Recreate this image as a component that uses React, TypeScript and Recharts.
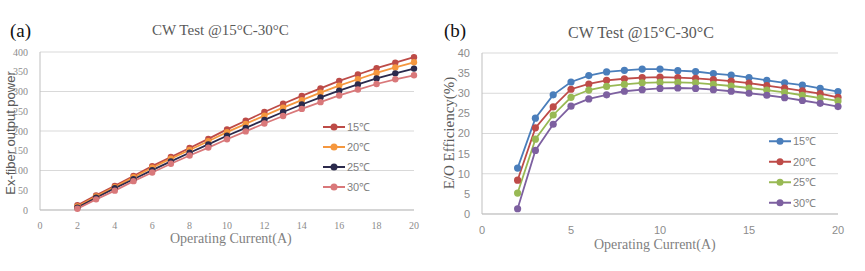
import { LineChart, Line, XAxis, YAxis, CartesianGrid } from "recharts";

const current = [2, 3, 4, 5, 6, 7, 8, 9, 10, 11, 12, 13, 14, 15, 16, 17, 18, 19, 20];

// (a) ex-fiber output power
const power15 = [12, 37, 61, 86, 111, 134, 157, 180, 204, 226, 248, 269, 289, 308, 327, 343, 359, 373, 387];
const power20 = [9, 34, 58, 83, 107, 130, 152, 174, 197, 218, 239, 259, 278, 297, 315, 331, 347, 361, 374];
const power25 = [6, 31, 55, 78, 101, 123, 145, 166, 188, 208, 228, 248, 267, 285, 302, 318, 333, 346, 358];
const power30 = [3, 27, 49, 73, 95, 117, 138, 158, 179, 199, 219, 238, 256, 273, 290, 305, 319, 331, 341];

// (b) E/O efficiency
const eff15 = [11.4, 23.8, 29.6, 32.8, 34.4, 35.3, 35.7, 36.0, 36.0, 35.6, 35.4, 34.9, 34.5, 33.9, 33.2, 32.6, 32.0, 31.2, 30.4];
const eff20 = [8.4, 21.4, 26.6, 31.0, 32.3, 33.2, 33.6, 33.9, 34.0, 33.9, 33.7, 33.4, 33.0, 32.5, 31.9, 31.3, 30.6, 29.9, 29.0];
const eff25 = [5.2, 18.6, 24.6, 29.0, 30.8, 31.7, 32.2, 32.6, 32.7, 32.7, 32.6, 32.2, 31.8, 31.3, 30.8, 30.2, 29.5, 28.8, 28.1];
const eff30 = [1.3, 15.8, 22.3, 26.8, 28.6, 29.6, 30.5, 30.9, 31.2, 31.3, 31.2, 30.9, 30.5, 30.0, 29.5, 28.9, 28.2, 27.5, 26.7];

const seriesNames = ["15℃", "20℃", "25℃", "30℃"];
const ticksA = [0, 2, 4, 6, 8, 10, 12, 14, 16, 18, 20];
const ticksYA = [0, 50, 100, 150, 200, 250, 300, 350, 400];
const ticksB = [0, 5, 10, 15, 20];
const ticksYB = [0, 5, 10, 15, 20, 25, 30, 35, 40];

const COLORS_A = ["#bd4b47", "#f5973e", "#2b2a4c", "#d9787a"];
const COLORS_B = ["#4a7ebb", "#be4b48", "#98b954", "#7d60a0"];

const dataA = current.map((c, i) => ({
  x: c,
  s0: power15[i],
  s1: power20[i],
  s2: power25[i],
  s3: power30[i],
}));

const dataB = current.map((c, i) => ({
  x: c,
  s0: eff15[i],
  s1: eff20[i],
  s2: eff25[i],
  s3: eff30[i],
}));

const SERIF = '"Liberation Serif", "DejaVu Serif", serif';
const SANS = '"Liberation Sans", Arial, sans-serif';

function LegendBox({ colors, gap, left, top }: { colors: string[]; gap: number; left: number; top: number }) {
  return (
    <svg width={70} height={gap * 4} style={{ position: "absolute", left, top }}>
      {seriesNames.map((n, i) => {
        const y = gap / 2 + i * gap;
        return (
          <g key={n}>
            <line x1={2} x2={24} y1={y} y2={y} stroke={colors[i]} strokeWidth={2} />
            <circle cx={13} cy={y} r={3.5} fill={colors[i]} />
            <text x={26} y={y + 4} fontSize={11} fill="#7f7f7f" fontFamily={SANS}>
              {n}
            </text>
          </g>
        );
      })}
    </svg>
  );
}

function Panel({ data, colors, xTicks, yTicks, yMax, margin, tickFont, tickSize, dotR }: any) {
  return (
    <LineChart width={432} height={271} data={data} margin={margin}>
      <CartesianGrid vertical={false} stroke="#d9d9d9" />
      <XAxis
        dataKey="x"
        type="number"
        domain={[0, 20]}
        ticks={xTicks}
        height={20}
        tickLine={false}
        axisLine={{ stroke: "#bfbfbf" }}
        tick={{ fontSize: tickSize, fill: "#8c8c8c", fontFamily: tickFont }}
        tickMargin={6}
      />
      <YAxis
        type="number"
        domain={[0, yMax]}
        ticks={yTicks}
        width={30}
        tickLine={false}
        axisLine={{ stroke: "#bfbfbf" }}
        tick={{ fontSize: tickSize, fill: "#8c8c8c", fontFamily: tickFont }}
        tickMargin={6}
      />
      {[0, 1, 2, 3].map((i) => (
        <Line
          key={i}
          dataKey={"s" + i}
          name={seriesNames[i]}
          stroke={colors[i]}
          strokeWidth={1.8}
          dot={{ r: dotR, fill: colors[i], stroke: colors[i], strokeWidth: 0 }}
          isAnimationActive={false}
        />
      ))}
    </LineChart>
  );
}

export default function App() {
  const abs = (s: any) => ({ position: "absolute" as const, whiteSpace: "nowrap" as const, lineHeight: 1, ...s });
  return (
    <div
      style={{
        position: "absolute",
        left: 0,
        top: 0,
        width: 865,
        height: 271,
        background: "#fff",
        overflow: "hidden",
      }}
    >
      <div style={{ position: "absolute", left: 0, top: 0 }}>
        <Panel
          data={dataA}
          colors={COLORS_A}
          xTicks={ticksA}
          yTicks={ticksYA}
          yMax={400}
          margin={{ top: 52, right: 18, left: 10, bottom: 41 }}
          tickFont={SERIF}
          tickSize={10}
          dotR={3.2}
        />
      </div>
      <div style={{ position: "absolute", left: 432, top: 0 }}>
        <Panel
          data={dataB}
          colors={COLORS_B}
          xTicks={ticksB}
          yTicks={ticksYB}
          yMax={40}
          margin={{ top: 53, right: 26, left: 20, bottom: 37 }}
          tickFont={SANS}
          tickSize={11}
          dotR={3.6}
        />
      </div>

      <LegendBox colors={COLORS_A} gap={20} left={321} top={117} />
      <LegendBox colors={COLORS_B} gap={20.5} left={767} top={131} />

      <div style={abs({ left: 10, top: 21, fontSize: 19, fontFamily: SERIF, color: "#111" })}>(a)</div>
      <div style={abs({ left: 152, top: 23, fontSize: 15, fontFamily: SERIF, color: "#595959" })}>
        CW Test @15°C-30°C
      </div>
      <div style={abs({ left: 170, top: 232, fontSize: 14, fontFamily: SERIF, color: "#7f7f7f" })}>
        Operating Current(A)
      </div>
      <div
        style={abs({
          left: 10,
          top: 133,
          fontSize: 13,
          fontFamily: SANS,
          color: "#595959",
          transform: "translate(-50%, -50%) rotate(-90deg)",
        })}
      >
        Ex-fiber output power
      </div>

      <div style={abs({ left: 444, top: 21, fontSize: 19, fontFamily: SERIF, color: "#111" })}>(b)</div>
      <div style={abs({ left: 568, top: 25, fontSize: 16, fontFamily: SERIF, color: "#595959" })}>
        CW Test @15°C-30°C
      </div>
      <div style={abs({ left: 594, top: 238, fontSize: 14, fontFamily: SERIF, color: "#7f7f7f" })}>
        Operating Current(A)
      </div>
      <div
        style={abs({
          left: 449,
          top: 133,
          fontSize: 15,
          fontFamily: SERIF,
          color: "#595959",
          transform: "translate(-50%, -50%) rotate(-90deg)",
        })}
      >
        E/O Efficiency(%)
      </div>
    </div>
  );
}
